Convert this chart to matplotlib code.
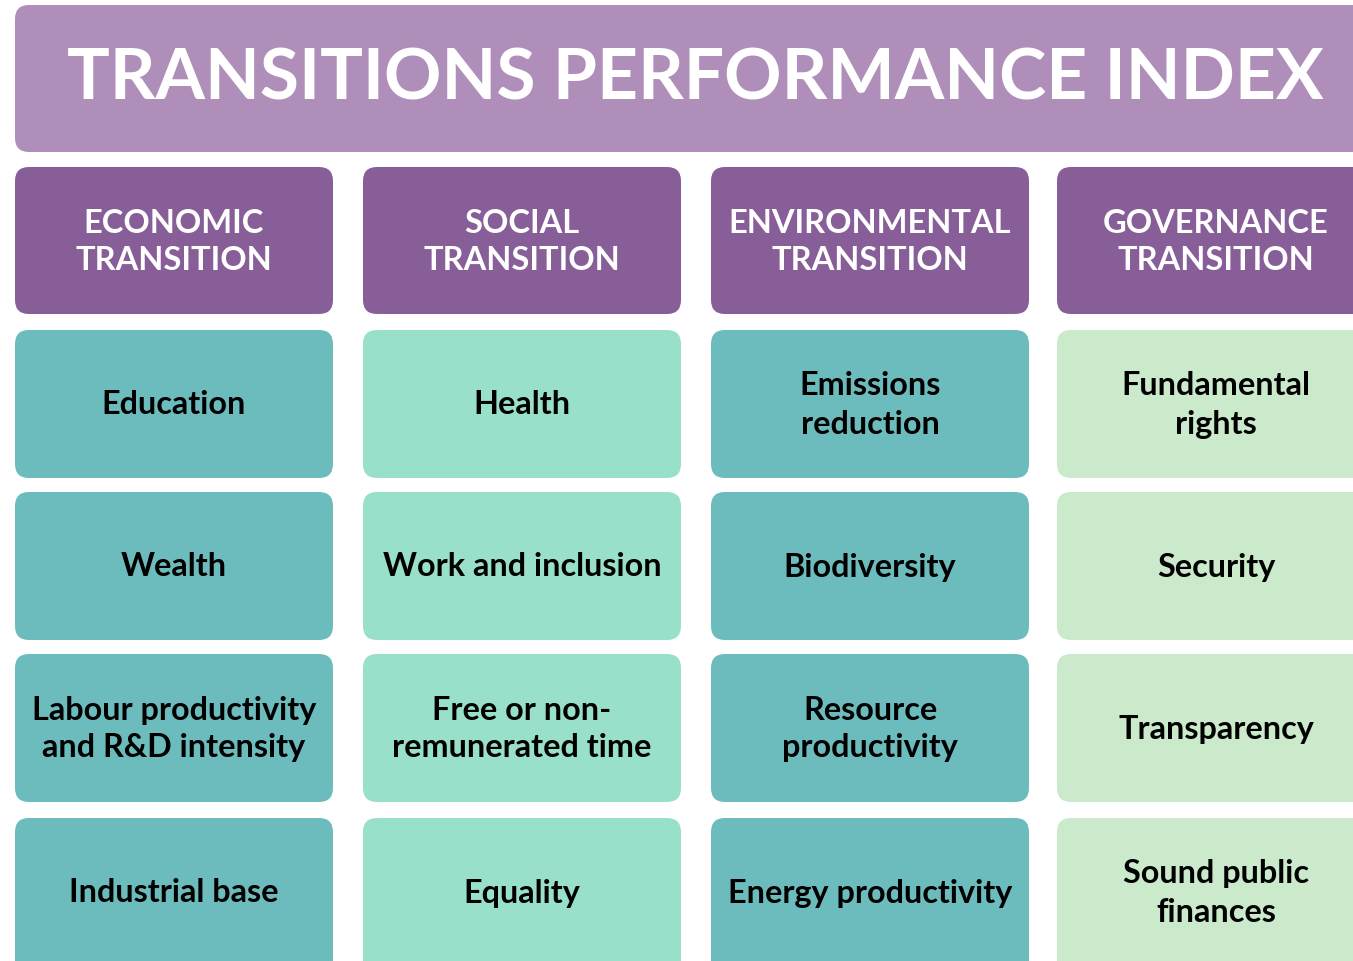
import matplotlib.pyplot as plt
from matplotlib.patches import FancyBboxPatch

plt.rcParams['font.family'] = ['Lato', 'DejaVu Sans']

title = "TRANSITIONS PERFORMANCE INDEX"
pillars = ["ECONOMIC\nTRANSITION", "SOCIAL\nTRANSITION",
           "ENVIRONMENTAL\nTRANSITION", "GOVERNANCE\nTRANSITION"]
economic = ["Education", "Wealth", "Labour productivity\nand R&D intensity", "Industrial base"]
social = ["Health", "Work and inclusion", "Free or non-\nremunerated time", "Equality"]
environmental = ["Emissions\nreduction", "Biodiversity", "Resource\nproductivity", "Energy productivity"]
governance = ["Fundamental\nrights", "Security", "Transparency", "Sound public\nfinances"]
items = [economic, social, environmental, governance]

col_colors = ["#6cbbbd", "#99e0cb", "#6cbbbd", "#caeacb"]
title_color = "#af8fba"
pillar_color = "#875e98"

W, H = 1353, 961
fig = plt.figure(figsize=(W / 100, H / 100), dpi=100)
ax = fig.add_axes([0, 0, 1, 1])
ax.set_xlim(0, W)
ax.set_ylim(H, 0)
ax.axis('off')


def box(x0, y0, x1, y1, color):
    r = 14
    p = FancyBboxPatch((x0 + r, y0 + r), x1 - x0 - 2 * r, y1 - y0 - 2 * r,
                       boxstyle="round,pad=%d,rounding_size=%d" % (r, r),
                       fc=color, ec='none', mutation_aspect=1)
    ax.add_patch(p)


# title box, runs off the right edge like the original
box(15, 5, 1400, 152, title_color)
ax.text(695, 79, title, color='white', fontsize=51.3, fontweight='bold',
        ha='center', va='center')

col_x = [15, 363, 711, 1057]
col_w = 318
row_y = [(330, 478), (492, 640), (654, 802), (818, 990)]

for i, name in enumerate(pillars):
    x0 = col_x[i]
    box(x0, 167, x0 + col_w, 314, pillar_color)
    ax.text(x0 + col_w / 2, 242, name, color='white', fontsize=23.5,
            fontweight='bold', ha='center', va='center', linespacing=1.36)
    for j, label in enumerate(items[i]):
        y0, y1 = row_y[j]
        box(x0, y0, x0 + col_w, y1, col_colors[i])
        yc = (y0 + min(y1, 966)) / 2 + 1
        ls = 1.3 if j == 2 else 1.38
        ax.text(x0 + col_w / 2, yc, label, color='black', fontsize=23.3,
                fontweight='bold', ha='center', va='center', linespacing=ls)

fig.savefig('out.png', dpi=100)
